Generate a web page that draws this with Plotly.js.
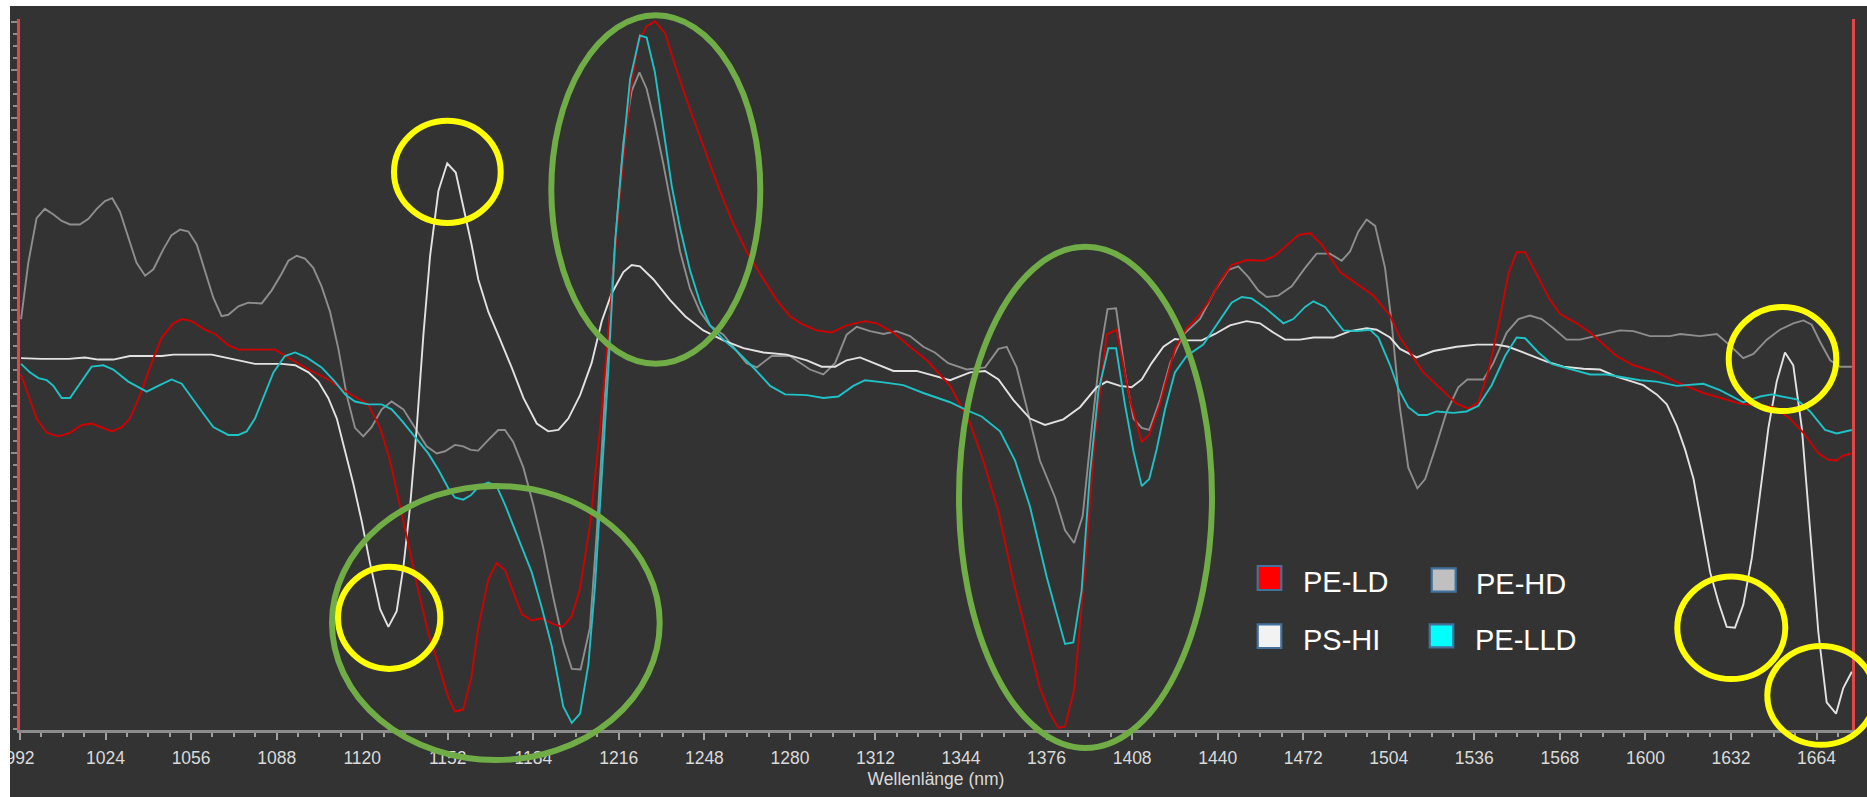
<!DOCTYPE html>
<html><head><meta charset="utf-8">
<script src="https://cdn.plot.ly/plotly-3.0.1.min.js"></script>
<style>
html,body{margin:0;padding:0;background:#ffffff;overflow:hidden;width:1867px;height:797px}
#chart{position:absolute;left:10px;top:6px;width:1857px;height:791px}
</style>
</head><body><div id="chart"></div>
<script>
// ---------- DATA (wavelength in nm, relative derivative intensity 0..100) ----------
const seriesNames = ['PE-LD', 'PE-HD', 'PS-HI', 'PE-LLD'];
const xTickLabels = ['992','1024','1056','1088','1120','1152','1184','1216','1248','1280','1312','1344','1376','1408','1440','1472','1504','1536','1568','1600','1632','1664'];

const peLdX = [992.4,998.2,1002,1006.3,1010.7,1015.1,1018.8,1026.3,1030,1033.1,1036.9,1041.2,1045,1049.4,1052.5,1056.2,1061.2,1065,1070,1073.7,1087.4,1092.4,1099.9,1107.3,1114.8,1122.3,1126.7,1130.4,1133.5,1137.3,1141,1144.7,1148.5,1152.2,1154.7,1157.8,1160.8,1163.4,1167.2,1170.3,1173.4,1176.5,1179.7,1183.4,1187.1,1191.5,1195,1198.4,1201.5,1205.2,1209,1212.7,1216.4,1220.2,1223.3,1226.4,1229.5,1233.3,1237.6,1242.6,1248.2,1253.8,1258.8,1263.8,1270.1,1275,1280,1285,1290,1295.6,1301.2,1308.1,1312.5,1318.7,1324.9,1331.2,1339.9,1347.4,1352.3,1358,1363.6,1368.6,1373.5,1377.3,1380.4,1382.9,1386.3,1390.4,1394.1,1398.5,1402.2,1407.2,1411.6,1414.4,1418.4,1424,1428.4,1432.8,1437.1,1440.9,1445.2,1450.8,1457.1,1461.4,1466.4,1470.2,1474.5,1478.9,1485.8,1492,1498.2,1504.5,1508.2,1516.9,1524.4,1529.4,1533.8,1537.5,1541.2,1545,1548.7,1551.8,1555,1559.3,1564.3,1568.1,1574.3,1579.3,1589.2,1595.5,1604.2,1613,1621.7,1635.4,1647.9,1654.1,1659.1,1664.7,1668.4,1671.5,1674,1677.2];
const peLdY = [50.0,43.8,41.8,41.3,41.8,42.9,43.1,42.0,42.6,43.8,47.1,51.6,55.2,57.2,57.8,57.5,56.3,55.7,54.1,53.5,53.5,52.4,50.7,49.3,47.4,45.8,42.5,37.9,32.7,26.1,19.6,13.7,9.2,4.6,2.6,2.9,7.3,14.4,21.2,23.5,22.5,19.3,16.3,15.4,15.7,14.9,14.5,16.0,19.9,28.8,42.5,58.8,75.2,89.5,96.7,99.0,99.7,98.0,92.8,87.3,81.4,75.8,71.2,67.3,63.4,60.5,58.2,57.0,56.2,55.9,56.9,57.5,57.2,55.9,53.9,52.0,48.4,43.1,37.9,30.7,20.9,13.1,5.9,2.3,0.3,0.5,5.6,22.9,41.2,55.6,56.3,46.4,40.5,41.5,45.8,53.6,56.5,58.2,60.5,63.1,65.4,66.1,66.0,66.7,68.3,69.6,69.9,68.3,64.4,62.7,61.1,58.3,55.2,50.3,47.7,45.9,45.2,46.1,50.3,56.9,64.1,67.2,67.2,64.1,60.5,58.5,57.2,55.9,52.6,51.3,50.3,48.7,47.4,45.9,45.4,43.8,41.8,38.9,38.0,37.9,38.6,38.9];

const peHdX = [992.4,995.1,998.2,1001.3,1004.5,1007.6,1010.7,1014.4,1017.6,1020.7,1023.8,1026.5,1029.4,1032.5,1035.6,1038.8,1041.9,1045.6,1048.7,1051.9,1055,1058.1,1061.2,1064.3,1067.4,1069.9,1073.7,1077.4,1082.4,1086.1,1089.9,1092.4,1095.5,1098.6,1101.7,1104.8,1108,1111.1,1114.2,1117.3,1120.4,1123.5,1127.3,1131,1135.4,1139.8,1144.1,1147.9,1151,1154.7,1157.8,1160.6,1163.4,1167.2,1170.9,1173.4,1176.5,1180.3,1184,1187.8,1191.5,1195.2,1198.4,1201.7,1205.2,1207.7,1210.2,1212.7,1215.2,1217.7,1220.8,1223.7,1226.4,1229.5,1232.6,1235.8,1238.9,1242.6,1246.4,1250.1,1255.1,1260.1,1263.8,1267.6,1273.2,1280,1287.5,1292.5,1296.9,1301.2,1305,1310,1315,1319.9,1324.9,1329.9,1334.2,1339.2,1346.1,1353,1358,1361.1,1364.8,1369.2,1373.5,1379.2,1382.9,1386.3,1389.5,1392.9,1396,1398.8,1402,1405.3,1408.5,1411.6,1414.4,1418.4,1422.2,1427.2,1433.4,1439,1444,1447.7,1451.5,1455.2,1458.3,1462.7,1467.7,1472.7,1477,1482,1486.4,1489.5,1492.6,1495.7,1498.9,1502.6,1505,1508,1511.3,1514.7,1517.6,1521.3,1525.7,1530,1533.4,1539.4,1543.1,1548.1,1552.5,1556.8,1561.2,1565.6,1570.5,1575.5,1583,1590.5,1595.5,1601.7,1609.2,1613,1620.4,1626.7,1631.6,1636.6,1640.4,1645.4,1650.3,1655.3,1659.1,1662.2,1665.3,1669.1,1672.8,1677.2];
const peHdY = [57.8,65.7,72.0,73.3,72.5,71.6,71.1,71.1,71.9,73.3,74.4,74.8,72.9,69.3,65.7,63.9,64.8,67.6,69.6,70.4,70.1,68.3,64.4,60.8,58.2,58.4,59.6,60.1,60.0,61.8,64.2,66.0,66.7,66.3,65.0,62.4,58.8,53.6,47.1,42.5,41.3,42.6,45.1,46.2,45.1,42.5,39.9,38.9,39.2,40.1,39.9,39.4,39.3,40.8,42.2,42.2,40.5,36.9,31.7,25.5,18.6,12.4,8.6,8.5,14.4,27.5,43.8,58.8,71.2,82.7,89.9,92.5,90.2,85.3,79.7,73.5,67.3,62.1,58.8,56.9,55.6,53.3,51.6,51.0,52.6,52.6,50.7,50.0,51.6,55.6,56.7,56.1,55.7,56.1,55.4,53.9,53.1,51.6,50.7,51.0,53.6,53.9,51.0,44.4,37.9,32.7,28.1,26.3,30.1,42.5,52.9,59.2,59.3,50.3,43.8,42.5,42.2,46.4,51.6,55.6,57.8,61.8,64.7,65.2,63.7,61.8,60.9,61.1,62.4,65.0,67.0,67.0,66.0,67.3,70.1,71.8,70.9,65.0,57.5,45.8,36.9,34.0,35.3,39.5,44.8,48.2,49.3,49.3,51.6,55.9,57.8,58.3,57.8,56.5,54.9,54.9,55.6,56.2,56.1,55.4,55.4,55.7,55.4,55.7,54.1,52.3,52.9,54.9,56.3,57.2,57.6,57.0,54.6,52.0,51.1,51.1];

const psHiX = [992.4,1000.1,1010.1,1016.3,1021.3,1026.9,1033.1,1045,1049.4,1063.7,1071.2,1079.9,1089.9,1094.9,1099.9,1103.6,1107.3,1110.5,1113.6,1116.7,1119.8,1122.9,1126.7,1129.8,1132.9,1135.4,1137.9,1140.4,1142.9,1145.4,1148.5,1151.8,1155,1158.5,1160.8,1163.4,1167.2,1171.6,1175.9,1180.3,1185.3,1189.6,1193.4,1197.1,1201.5,1205.8,1209.6,1213.3,1217.7,1220.8,1223.9,1228.9,1235.1,1240.8,1247.6,1255.1,1262.6,1270.1,1278.8,1286.3,1291.9,1296.9,1301.2,1306.2,1311.8,1318.7,1327.4,1334,1339.9,1347.4,1353,1358,1363.6,1369.8,1375.4,1382.3,1388.5,1394.7,1398.5,1403.5,1407.8,1411.6,1415.3,1419.7,1424,1428.4,1434,1439,1444.6,1450.8,1455.8,1460.8,1465.2,1470.8,1475.8,1483.3,1489.5,1495.7,1499.5,1504.5,1508.2,1514.4,1520.7,1529.4,1536.9,1544.4,1548.7,1554.3,1563.1,1569.3,1576.8,1583,1589.2,1599.2,1604.2,1608,1611.7,1614.8,1618,1621.1,1624.2,1627.3,1630.4,1633.5,1636.6,1639.8,1642.9,1646,1649.1,1652.2,1655.3,1658.5,1661.6,1664.7,1667.8,1671.3,1674,1677.2];
const psHiY = [52.3,52.2,52.2,52.4,52.1,52.1,52.6,52.6,52.8,52.8,52.2,51.5,51.5,51.3,50.3,49.0,46.7,43.8,39.2,34.6,29.4,23.5,17.0,14.5,16.7,22.9,31.4,42.5,55.6,66.7,75.8,79.7,78.4,72.5,68.5,63.4,58.8,54.9,51.0,46.7,43.1,42.0,42.2,43.8,47.1,51.6,57.5,61.4,64.4,65.4,65.2,63.4,60.5,58.2,56.2,54.8,53.7,53.1,52.8,52.0,51.1,51.1,52.0,52.4,51.5,50.5,50.5,49.8,49.2,50.3,50.5,49.3,46.4,43.8,42.9,43.7,45.4,48.2,49.0,48.4,48.2,49.3,51.6,53.9,55.0,54.8,54.8,55.7,56.9,57.5,57.2,55.9,54.9,54.9,55.2,55.2,56.1,56.5,56.3,55.2,53.6,52.4,53.3,53.9,54.2,54.2,53.9,53.1,51.8,51.1,50.8,50.7,49.7,48.5,47.2,45.8,42.8,39.5,35.3,28.8,22.2,18.0,14.5,14.4,17.6,24.2,33.3,42.5,49.0,53.1,51.3,42.5,28.1,13.7,3.9,2.3,5.9,8.2];

const peLldX = [992.4,995.7,998.9,1002,1004.5,1007.6,1010.7,1014.4,1018.8,1023.2,1026.9,1032.5,1039.4,1043.7,1048.7,1052.5,1056.2,1060,1064.3,1069.9,1073.7,1076.8,1079.9,1083,1086.8,1091.1,1094.9,1099.2,1104.8,1109.8,1113.6,1117.3,1122.3,1127.3,1131,1134.8,1139.8,1144.7,1148.5,1152.2,1154.7,1157.8,1160.6,1163.8,1167.2,1170.3,1173.4,1176.5,1179.7,1183.4,1187.1,1190.9,1195.2,1198.4,1201.5,1204.6,1207.1,1209.6,1212.1,1214.6,1217.1,1220.2,1223.9,1226.4,1229.5,1232.6,1235.8,1238.9,1242.6,1246.4,1250.1,1255.1,1260.1,1267,1272.6,1278.2,1286.3,1292.5,1298.1,1303.7,1308.1,1315,1322.4,1329.9,1336.1,1339.9,1346.1,1351.7,1358.6,1364.2,1369.8,1376,1379.8,1382.9,1386,1389.1,1392.2,1395.4,1399.1,1402,1405.3,1408.5,1411.6,1414.4,1417.2,1420.3,1424,1428.4,1434.6,1439.6,1445.2,1449,1452.7,1458.3,1464.6,1468.3,1472.7,1475.8,1480.2,1487,1492,1497,1500.1,1504.5,1507.6,1511.3,1515.1,1518.2,1521.9,1528.2,1533.1,1537.5,1542.5,1547.5,1551.8,1555,1560,1564.9,1571.8,1579.3,1585.5,1598,1604.2,1611.7,1621.7,1627.9,1636.6,1642.9,1647.2,1656.6,1661.6,1667.2,1671.5,1677.2];
const peLldY = [51.5,50.3,49.5,49.2,48.4,46.7,46.7,48.7,51.1,51.3,50.7,49.0,47.6,48.4,49.3,48.7,46.7,44.8,42.6,41.5,41.5,42.0,43.8,46.7,50.3,52.6,53.1,52.4,51.0,49.0,47.2,46.2,45.8,45.8,45.1,43.5,41.2,38.9,36.6,34.0,32.7,32.4,33.0,34.3,34.8,34.3,31.7,28.8,25.8,22.2,17.3,11.8,3.3,1.0,2.3,9.2,20.3,35.9,51.0,68.6,79.7,91.5,97.7,97.4,92.5,84.6,76.5,70.6,64.7,60.1,56.9,54.9,53.3,50.7,48.4,47.2,47.1,46.7,46.9,48.4,49.2,48.9,48.5,47.4,46.6,46.1,45.0,44.1,42.0,37.9,31.4,21.6,16.3,12.1,12.3,19.6,35.9,47.7,53.7,53.7,45.8,39.2,34.3,35.3,39.5,45.1,50.3,52.6,54.2,56.9,60.1,60.9,60.7,59.2,57.2,57.8,59.5,60.3,59.5,56.2,56.1,56.3,55.2,51.3,48.0,45.4,44.3,44.3,44.8,44.6,44.8,45.6,48.5,52.6,55.2,55.1,53.1,51.5,50.8,50.0,50.0,49.2,49.0,48.4,48.7,47.8,46.1,46.9,47.2,46.5,44.8,42.2,41.7,42.2];

// ---------- STYLE ----------
const lineColors = {'PE-LD':'#D20000','PE-HD':'#8E8E8E','PS-HI':'#E2E2E2','PE-LLD':'#1FC2C6'};
const swatchColors = {'PE-LD':'#FF0000','PE-HD':'#C0C0C0','PS-HI':'#F2F2F2','PE-LLD':'#00FFFF'};
const seriesData = {'PE-LD':[peLdX,peLdY],'PE-HD':[peHdX,peHdY],'PS-HI':[psHiX,psHiY],'PE-LLD':[peLldX,peLldY]};
const drawOrder = ['PE-HD','PS-HI','PE-LD','PE-LLD'];

const traces = drawOrder.map(n => ({
  type:'scatter', mode:'lines', name:n,
  x: seriesData[n][0], y: seriesData[n][1],
  line:{color:lineColors[n], width:1.9},
  hoverinfo:'skip', showlegend:false
}));

// plot-area pixel frame in page coordinates (for placing overlays)
const PL=20, PR=1852, PT=19, PB=730;
const px = x => (x-PL)/(PR-PL);
const py = y => (PB-y)/(PB-PT);

const shapes = [];
function ellipse(b, color, w){
  const ix = w/2, iy = w/2;
  shapes.push({type:'circle', xref:'paper', yref:'paper', layer:'above',
    x0:px(b[0]+ix), x1:px(b[2]-ix), y0:py(b[3]-iy), y1:py(b[1]+iy),
    line:{color:color, width:w}, fillcolor:'rgba(0,0,0,0)'});
}
// green highlight ellipses
[[329,482.9,662.7,763],[548.3,12.3,763.3,366.7],[956,243.7,1215,751]].forEach(b=>ellipse(b,'#70AD47',6));
// yellow highlight circles
[[391,117.8,503.7,226],[335,563.7,443.3,671.9],[1725.7,304,1839.3,414.1],[1674.3,573.5,1788.3,682.1],[1764.3,643.1,1878,747.8]].forEach(b=>ellipse(b,'#FFFF00',6));

// custom legend (square swatches)
const legendPos = {
  'PE-LD':  {sq:[1256.7,565,1282.3,591],   tx:1302.7, base:592.3},
  'PE-HD':  {sq:[1430.7,567.3,1456.7,592.7], tx:1476,  base:594.3},
  'PS-HI':  {sq:[1256.7,623.3,1282.3,649],  tx:1302.7, base:650},
  'PE-LLD': {sq:[1428.7,623.3,1454.3,648.3], tx:1474.7, base:650}
};
const annotations = [];
seriesNames.forEach(n=>{
  const p = legendPos[n];
  shapes.push({type:'rect', xref:'paper', yref:'paper', layer:'above',
    x0:px(p.sq[0]+1), x1:px(p.sq[2]-1), y0:py(p.sq[3]-1), y1:py(p.sq[1]+1),
    line:{color:'#41719C', width:2.2}, fillcolor:swatchColors[n]});
  annotations.push({xref:'paper', yref:'paper', x:px(p.tx-2), y:py(p.base-10.4),
    xanchor:'left', yanchor:'middle', showarrow:false, text:n,
    font:{family:'Liberation Sans, Arial, sans-serif', size:29, color:'#FFFFFF'}});
});

const layout = {
  width:1857, height:791,
  paper_bgcolor:'#333333', plot_bgcolor:'#333333',
  margin:{l:10, r:15, t:13, b:67},
  showlegend:false,
  xaxis:{
    range:[992, 992+(PR-PL)/2.6734], autorange:false,
    tickmode:'array', tickvals:xTickLabels.map(Number), ticktext:xTickLabels,
    ticks:'outside', ticklen:7, tickwidth:2, tickcolor:'#A0A0A0',
    minor:{ticks:'outside', dtick:8, tick0:992, ticklen:4, tickwidth:2, tickcolor:'#A0A0A0', showgrid:false},
    showline:true, linecolor:'#8C8C8C', linewidth:3,
    showgrid:false, zeroline:false,
    ticklabeloverflow:'allow', ticklabelstandoff:3,
    tickfont:{family:'Liberation Sans, Arial, sans-serif', size:17.5, color:'#DADADA'},
    title:{text:'Wellenlänge (nm)', standoff:6,
      font:{family:'Liberation Sans, Arial, sans-serif', size:17.5, color:'#DADADA'}}
  },
  yaxis:{
    range:[0,100], autorange:false,
    tick0:5.2, dtick:6.74, showticklabels:false,
    ticks:'outside', ticklen:6, tickwidth:2, tickcolor:'#8E8E8E',
    minor:{ticks:'outside', dtick:1.685, tick0:5.2, ticklen:4, tickwidth:2, tickcolor:'#8E8E8E', showgrid:false},
    showline:true, linecolor:'#E04848', linewidth:3, mirror:true,
    showgrid:false, zeroline:false
  },
  shapes:shapes, annotations:annotations
};

Plotly.newPlot('chart', traces, layout, {displayModeBar:false, staticPlot:true});
</script></body></html>
